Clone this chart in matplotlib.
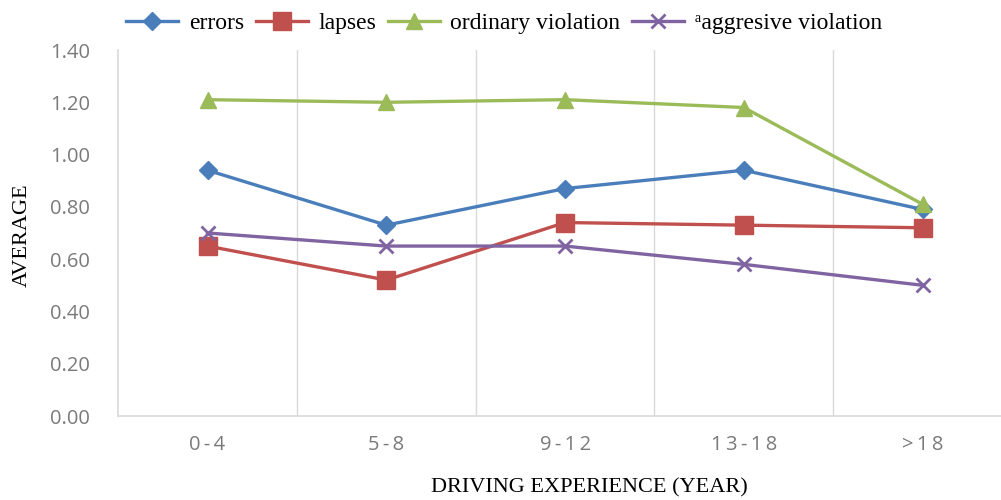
import numpy as np
import matplotlib
matplotlib.use("Agg")
import matplotlib.pyplot as plt

# average scores by driving experience group
groups = ["0-4", "5-8", "9-12", "13-18", ">18"]
errors = [0.94, 0.73, 0.87, 0.94, 0.79]
lapses = [0.65, 0.52, 0.74, 0.73, 0.72]
ordinary = [1.21, 1.20, 1.21, 1.18, 0.81]
aggressive = [0.70, 0.65, 0.65, 0.58, 0.50]
yticks = [0.0, 0.2, 0.4, 0.6, 0.8, 1.0, 1.2, 1.4]

serif = ["Liberation Serif", "DejaVu Serif"]
tick_color = "#7a7a7a"
grid_color = "#d9d9d9"

fig = plt.figure(figsize=(10.01, 5.0), dpi=100)
ax = fig.add_axes([0.118, 0.168, 0.893, 0.732])

x = np.arange(len(groups))
lw = 2.4
ax.plot(x, errors, color="#4A7EBB", lw=lw, marker="D", ms=9.5, label="errors", zorder=3)
ax.plot(x, lapses, color="#C0504D", lw=lw, marker="s", ms=12.5, label="lapses", zorder=3)
ax.plot(x, ordinary, color="#9BBB59", lw=lw, marker="^", ms=11, label="ordinary violation", zorder=4)
ax.plot(x, aggressive, color="#8064A2", lw=lw, marker="x", ms=10, mew=2,
        label="\u1d43aggresive violation", zorder=3)

ax.set_xlim(-0.5, len(groups) - 0.5)
ax.set_ylim(0, 1.4)
ax.set_yticks(yticks)
ax.set_yticklabels([f"{v:.2f}" for v in yticks])
ax.set_xticks(x)
# spaced-out category labels
ax.set_xticklabels(["\u2009".join(g) for g in groups])

# category separators only
for b in np.arange(0.5, len(groups) - 0.5, 1.0):
    ax.axvline(b, color=grid_color, lw=1, zorder=1)

for side in ["top", "right"]:
    ax.spines[side].set_visible(False)
for side in ["left", "bottom"]:
    ax.spines[side].set_color(grid_color)
    ax.spines[side].set_linewidth(1.2)

ax.tick_params(axis="both", length=0, labelsize=14.5, labelcolor=tick_color)
ax.tick_params(axis="y", pad=20)
ax.tick_params(axis="x", pad=14)
for lab in ax.get_xticklabels() + ax.get_yticklabels():
    lab.set_family(["Open Sans", "DejaVu Sans"])

fig.text(0.022, 0.53, "AVERAGE", family=serif, fontsize=16, rotation=90,
         ha="center", va="center")
fig.text(0.589, 0.024, "DRIVING EXPERIENCE (YEAR)", family=serif, fontsize=16,
         ha="center", va="center")

fig.legend(loc="center left", bbox_to_anchor=(0.126, 0.954), ncol=4, frameon=False,
           prop={"family": serif, "size": 17}, handlelength=2.2,
           columnspacing=0.5, handletextpad=0.45, borderpad=0, borderaxespad=0)

fig.savefig("out.png", dpi=100)
